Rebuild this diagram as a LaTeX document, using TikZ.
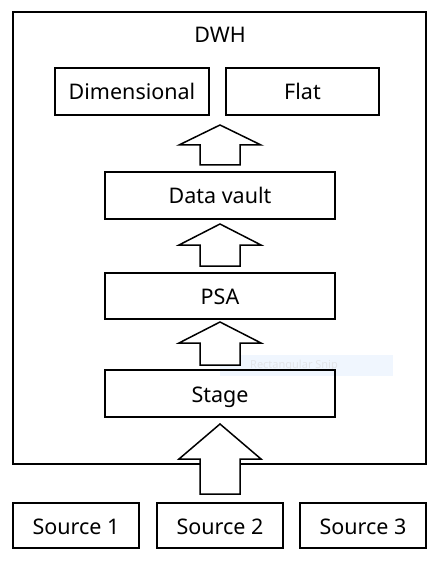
\documentclass[tikz,border=0pt]{standalone}
\usepackage{fontspec}
\setmainfont{Noto Sans}
\usepackage{xcolor}
\usepackage{tikz}
\definecolor{snipblue}{HTML}{F0F6FE}
\definecolor{snipgray}{HTML}{E2E4E8}
\tikzset{
	label text/.style={font=\fontsize{21.5}{24}\selectfont, text height=17, text depth=0},
	layer/.style={draw, line width=1.5pt, inner sep=0pt, label text},
	uparrow/.style={draw, line width=1.5pt, fill=white, line join=miter}
}
\newcommand{\hollowarrow}[4]{%
	\draw[uparrow] (#1,#2) -- (#1+41,#3) -- (#1+20,#3) -- (#1+20,#4) -- (#1-20,#4) -- (#1-20,#3) -- (#1-41,#3) -- cycle;}

\begin{document}
\begin{tikzpicture}[x=1pt,y=-1pt]
			\useasboundingbox (0,0) rectangle (438,561);
			\fill[snipblue] (220,355) rectangle (393,376);
			\node[text=snipgray, font=\fontsize{11}{13}\selectfont] (snip) at (294,366) {Rectangular Snip};
			\node[layer, minimum width=413, minimum height=452] (dwh) at (219.5,238) {};
			\node[label text, inner sep=0pt] (dwhlabel) at (220,34) {DWH};
			\node[layer, minimum width=154, minimum height=47] (dim) at (132,91.5) {Dimensional};
			\node[layer, minimum width=153, minimum height=47] (flat) at (302.5,91.5) {Flat};
			\node[layer, minimum width=230, minimum height=47] (dv) at (220,195.5) {Data vault};
			\node[layer, minimum width=230, minimum height=46] (psa) at (220,296) {PSA};
			\node[layer, minimum width=230, minimum height=47] (stage) at (220,393.5) {Stage};
			\node[layer, minimum width=126, minimum height=45] (src1) at (76,525.5) {Source 1};
			\node[layer, minimum width=126, minimum height=45] (src2) at (220,525.5) {Source 2};
			\node[layer, minimum width=126, minimum height=45] (src3) at (363,525.5) {Source 3};
			\hollowarrow{220}{125}{145}{165}
			\hollowarrow{220}{224}{245}{266}
			\hollowarrow{220}{322}{343}{365}
			\hollowarrow{220}{424}{459}{494}
		\end{tikzpicture}
\end{document}
